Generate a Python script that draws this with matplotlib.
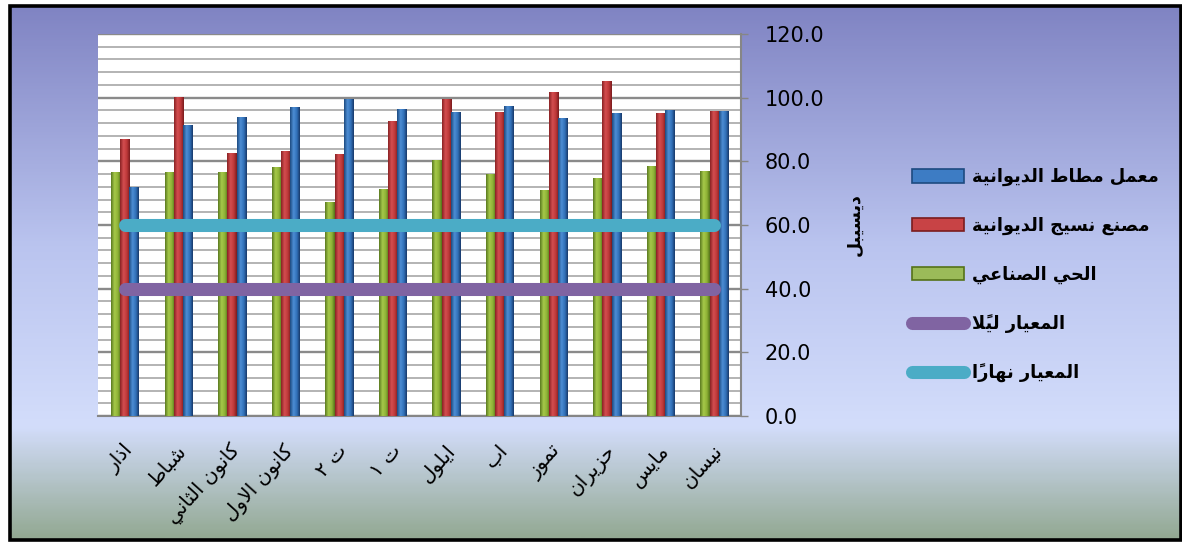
import numpy as np
import matplotlib
matplotlib.use('Agg')
import matplotlib.pyplot as plt
from matplotlib.patches import Rectangle, Patch
from matplotlib.lines import Line2D
from matplotlib.colors import LinearSegmentedColormap
from matplotlib.transforms import ScaledTranslation

# ---------------- data ----------------
months = ['اذار', 'شباط', 'كانون الثاني', 'كانون الاول', 'ت ٢', 'ت ١',
          'ايلول', 'اب', 'تموز', 'حزيران', 'مايس', 'نيسان']
industrial = [76.8, 76.8, 76.5, 78.2, 67.1, 71.3, 80.5, 76.0, 71.1, 74.9, 78.4, 77.1]
textile = [87.0, 100.1, 82.6, 83.3, 82.3, 92.7, 99.6, 95.5, 101.8, 105.1, 95.2, 95.7]
rubber = [71.9, 91.4, 93.9, 97.1, 99.6, 96.4, 95.5, 97.3, 93.5, 95.2, 96.1, 95.7]
night_std = [40.0, 40.0, 40.0, 40.0, 40.0, 40.0, 40.0, 40.0, 40.0, 40.0, 40.0, 40.0]
day_std = [60.0, 60.0, 60.0, 60.0, 60.0, 60.0, 60.0, 60.0, 60.0, 60.0, 60.0, 60.0]
name_rubber = 'معمل مطاط الديوانية'
name_textile = 'مصنع نسيج الديوانية'
name_industrial = 'الحي الصناعي'
name_night = 'المعيار ليلاً'
name_day = 'المعيار نهاراً'
y_label = 'ديسيبل'
y_ticks = [0, 20, 40, 60, 80, 100, 120]

# ---------------- simple Arabic shaping ----------------
AR = {
    0x0621: (0xFE80,), 0x0622: (0xFE81, 0xFE82), 0x0623: (0xFE83, 0xFE84),
    0x0625: (0xFE87, 0xFE88), 0x0627: (0xFE8D, 0xFE8E),
    0x0628: (0xFE8F, 0xFE90, 0xFE91, 0xFE92), 0x0629: (0xFE93, 0xFE94),
    0x062A: (0xFE95, 0xFE96, 0xFE97, 0xFE98), 0x062B: (0xFE99, 0xFE9A, 0xFE9B, 0xFE9C),
    0x062C: (0xFE9D, 0xFE9E, 0xFE9F, 0xFEA0), 0x062D: (0xFEA1, 0xFEA2, 0xFEA3, 0xFEA4),
    0x062E: (0xFEA5, 0xFEA6, 0xFEA7, 0xFEA8), 0x062F: (0xFEA9, 0xFEAA),
    0x0630: (0xFEAB, 0xFEAC), 0x0631: (0xFEAD, 0xFEAE), 0x0632: (0xFEAF, 0xFEB0),
    0x0633: (0xFEB1, 0xFEB2, 0xFEB3, 0xFEB4), 0x0634: (0xFEB5, 0xFEB6, 0xFEB7, 0xFEB8),
    0x0635: (0xFEB9, 0xFEBA, 0xFEBB, 0xFEBC), 0x0636: (0xFEBD, 0xFEBE, 0xFEBF, 0xFEC0),
    0x0637: (0xFEC1, 0xFEC2, 0xFEC3, 0xFEC4), 0x0638: (0xFEC5, 0xFEC6, 0xFEC7, 0xFEC8),
    0x0639: (0xFEC9, 0xFECA, 0xFECB, 0xFECC), 0x063A: (0xFECD, 0xFECE, 0xFECF, 0xFED0),
    0x0641: (0xFED1, 0xFED2, 0xFED3, 0xFED4), 0x0642: (0xFED5, 0xFED6, 0xFED7, 0xFED8),
    0x0643: (0xFED9, 0xFEDA, 0xFEDB, 0xFEDC), 0x0644: (0xFEDD, 0xFEDE, 0xFEDF, 0xFEE0),
    0x0645: (0xFEE1, 0xFEE2, 0xFEE3, 0xFEE4), 0x0646: (0xFEE5, 0xFEE6, 0xFEE7, 0xFEE8),
    0x0647: (0xFEE9, 0xFEEA, 0xFEEB, 0xFEEC), 0x0648: (0xFEED, 0xFEEE),
    0x0649: (0xFEEF, 0xFEF0), 0x064A: (0xFEF1, 0xFEF2, 0xFEF3, 0xFEF4),
}
LAMALEF = {0x0622: (0xFEF5, 0xFEF6), 0x0623: (0xFEF7, 0xFEF8),
           0x0625: (0xFEF9, 0xFEFA), 0x0627: (0xFEFB, 0xFEFC)}
MARKS = set(range(0x064B, 0x0653))


def shape_line(s):
    cs = [ord(c) for c in s]
    toks = []
    i = 0
    while i < len(cs):
        c = cs[i]
        if c in MARKS and toks:
            toks[-1]['marks'].append(c)
            i += 1
            continue
        if c == 0x0644 and i + 1 < len(cs) and cs[i + 1] in LAMALEF:
            toks.append({'kind': 'la', 'c': cs[i + 1], 'marks': []})
            i += 2
            continue
        toks.append({'kind': 'ch', 'c': c, 'marks': []})
        i += 1

    def jtype(t):
        if t['kind'] == 'la':
            return 'R'
        f = AR.get(t['c'])
        if f is None:
            return 'U'
        return 'D' if len(f) == 4 else ('R' if len(f) == 2 else 'U')

    out = []
    n = len(toks)
    for k, t in enumerate(toks):
        jt = jtype(t)
        prev = jtype(toks[k - 1]) if k > 0 else 'U'
        nxt = jtype(toks[k + 1]) if k < n - 1 else 'U'
        jp = jt in 'DR' and prev == 'D'
        jn = jt == 'D' and nxt in 'DR'
        if t['kind'] == 'la':
            g = LAMALEF[t['c']][1 if jp else 0]
        else:
            f = AR.get(t['c'])
            if f is None:
                g = t['c']
            elif len(f) == 4:
                g = f[3] if (jp and jn) else (f[1] if jp else (f[2] if jn else f[0]))
            elif len(f) == 2:
                g = f[1] if jp else f[0]
            else:
                g = f[0]
        out.append(chr(g) + ''.join(chr(m) for m in t['marks']))
    return ''.join(reversed(out))


def ar(s):
    return '\n'.join(shape_line(line) for line in s.split('\n'))


# ---------------- figure ----------------
W, H = 1182, 543
fig = plt.figure(figsize=(W / 100, H / 100), dpi=100, facecolor='white')

bg = fig.add_axes([0, 0, 1, 1], zorder=0)
bg.set_xlim(0, W)
bg.set_ylim(H, 0)
bg.axis('off')
bg_cmap = LinearSegmentedColormap.from_list(
    'bg', [(0.0, '#8084c3'), (0.45, '#bac4ef'), (0.79, '#d3ddfb'), (1.0, '#93a993')])
grad = np.linspace(0, 1, 300).reshape(-1, 1)
bg.imshow(grad, cmap=bg_cmap, aspect='auto', extent=(10, 1180, 539, 6),
          origin='upper', interpolation='bilinear')
bg.add_patch(Rectangle((9.5, 5.5), 1171, 534, fill=False, ec='black', lw=2.6))
bg.set_xlim(0, W)
bg.set_ylim(H, 0)

ax = fig.add_axes([98 / W, 1 - 416 / H, 643 / W, 382 / H], zorder=2)
ax.set_facecolor('white')

x = np.arange(len(months))
bw = 0.172

series = [
    (industrial, -bw, ['#5a7a20', '#a6c94a', '#8eb236', '#557219']),
    (textile, 0.0, ['#8a2224', '#d44e50', '#bd3839', '#7a1c1e']),
    (rubber, bw, ['#1d4a80', '#4d8ed4', '#3170b8', '#18396a']),
]
for vals, off, cols in series:
    bars = ax.bar(x + off, vals, bw, color=cols[2], zorder=3, linewidth=0)
    cm = LinearSegmentedColormap.from_list('b', [(0, cols[0]), (0.35, cols[1]),
                                                 (0.7, cols[2]), (1.0, cols[3])])
    g = cm(np.linspace(0, 1, 40)).reshape(1, 40, 4)
    for p in bars:
        x0, y0 = p.get_x(), p.get_y()
        im = ax.imshow(g, extent=(x0, x0 + p.get_width(), y0, y0 + p.get_height()),
                       aspect='auto', zorder=3.5, interpolation='bilinear')
        im.set_clip_path(p)

ax.plot(x, night_std, color='#8064a2', lw=9.4, solid_capstyle='round', zorder=5)
ax.plot(x, day_std, color='#4bacc6', lw=9.4, solid_capstyle='round', zorder=5)

ax.set_xlim(-0.5, len(months) - 0.5)
ax.set_ylim(0, 120)
ax.set_yticks(y_ticks)
ax.set_yticks(np.arange(0, 121, 4), minor=True)
ax.set_yticklabels(['%.1f' % v for v in y_ticks])
ax.yaxis.tick_right()
ax.set_axisbelow(True)
ax.yaxis.grid(True, which='minor', color='#b3b3b3', lw=1.4, zorder=1)
ax.yaxis.grid(True, which='major', color='#8a8a8a', lw=1.7, zorder=1)
ax.tick_params(axis='y', which='major', direction='out', length=5, width=1,
               color='#868686', pad=12, labelsize=15, labelcolor='black')
ax.tick_params(axis='y', which='minor', length=0)
ax.tick_params(axis='x', length=0, pad=18)
for s in ['left', 'top']:
    ax.spines[s].set_visible(False)
for s in ['right', 'bottom']:
    ax.spines[s].set_color('#868686')
    ax.spines[s].set_linewidth(1.5)

ax.set_xticks(x)
ax.set_xticklabels([ar(m) for m in months], rotation=48, ha='right', va='top',
                   rotation_mode='anchor', fontsize=14.5, family=['DejaVu Sans'])
shift = ScaledTranslation(-1.5 / 72, 0, fig.dpi_scale_trans)
for t in ax.get_xticklabels():
    t.set_transform(t.get_transform() + shift)

ax.yaxis.set_label_position('right')
ax.set_ylabel(ar(y_label), rotation=90, fontsize=12.5, fontweight='bold',
              family=['DejaVu Sans'])
ax.yaxis.set_label_coords((846 - 98) / 643, 0.5)

handles = [
    Patch(facecolor='#3d7cc4', edgecolor='#1d4a80', lw=1.2),
    Patch(facecolor='#c84345', edgecolor='#7a1c1e', lw=1.2),
    Patch(facecolor='#9bbb59', edgecolor='#557219', lw=1.2),
    Line2D([], [], color='#8064a2', lw=9.4, solid_capstyle='round'),
    Line2D([], [], color='#4bacc6', lw=9.4, solid_capstyle='round'),
]
labels = [ar(name_rubber), ar(name_textile), ar(name_industrial), ar(name_night), ar(name_day)]
leg = ax.legend(handles, labels, loc='upper left', bbox_to_anchor=(912 / W, 1 - 168 / H),
                bbox_transform=fig.transFigure, frameon=False, borderpad=0,
                borderaxespad=0, handlelength=2.9, handleheight=0.8,
                handletextpad=0.5, labelspacing=1.72,
                prop={'family': ['DejaVu Sans'], 'weight': 'bold', 'size': 12.8})

fig.savefig('out.png', dpi=100, facecolor='white')
